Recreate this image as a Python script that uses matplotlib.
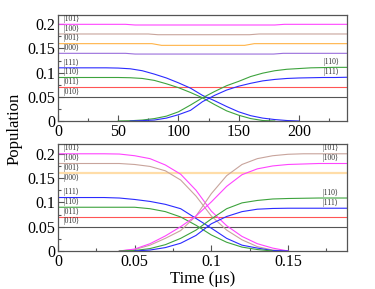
import numpy as np
import matplotlib
matplotlib.use('Agg')
import matplotlib.pyplot as plt
from matplotlib.ticker import MultipleLocator

plt.rcParams['font.family'] = ['Liberation Serif', 'DejaVu Serif', 'DejaVu Sans']

nan = np.nan

# ---------------- top panel: time in ns ----------------
t_top = np.arange(0, 241, 10)
b_dn_top = [.11, .11, .11, .11, .11, .1095, .108, .104, .097, .089, .079, .068, .053,
            .042, .030, .019, .011, .006, .003, .001, 0.0, nan, nan, nan, nan]
g_dn_top = [.09, .09, .09, .09, .09, .09, .0895, .088, .084, .077, .069, .059, .048,
            .034, .021, .012, .005, .001, 0.0, nan, nan, nan, nan, nan, nan]
g_up_top = [nan, nan, nan, nan, nan, 0.0, .0005, .002, .005, .010, .019, .033, .048,
            .061, .073, .082, .092, .099, .104, .107, .1085, .110, .1105, .111, .111]
b_up_top = [nan, nan, nan, nan, nan, nan, 0.0, .0008, .002, .006, .013, .022, .040,
            .053, .064, .072, .078, .083, .086, .088, .089, .0895, .090, .090, .0905]

# nearly flat populations (small dips in the middle)
mag_t_top = [0, 56, 64, 180, 188, 240]
mag_v_top = [.2, .2, .1986, .1986, .2, .2]
ros_t_top = [0, 75, 83, 159, 167, 240]
ros_v_top = [.18, .18, .1785, .1785, .18, .18]
ora_t_top = [0, 78, 86, 155, 163, 240]
ora_v_top = [.16, .16, .1565, .1565, .16, .16]
pur_t_top = [0, 56, 64, 179, 187, 240]
pur_v_top = [.14, .14, .1385, .1385, .14, .14]

# ---------------- bottom panel: time in us ----------------
t_bot = np.round(np.arange(0, 0.195, 0.01), 2)
m_dn_bot = [.2, .2, .2, .2, .1995, .196, .19, .177, .158, .125, .082, .052, .030,
            .015, .006, 0.0, nan, nan, nan, nan]
r_dn_bot = [.18, .18, .18, .18, .18, .178, .174, .165, .146, .113, .072, .043, .023,
            .009, .002, 0.0, nan, nan, nan, nan]
b_dn_bot = [.11, .11, .11, .11, .109, .106, .102, .096, .087, .067, .047, .026, .012,
            .006, .001, 0.0, nan, nan, nan, nan]
g_dn_bot = [.09, .09, .09, .09, .09, .09, .087, .081, .070, .053, .033, .018, .008,
            .003, 0.0, nan, nan, nan, nan, nan]
m_up_bot = [nan, nan, nan, nan, 0.0, .004, .015, .031, .050, .072, .101, .133, .157,
            .169, .175, .178, .179, .18, .18, .18]
r_up_bot = [nan, nan, nan, nan, 0.0, .003, .012, .026, .042, .072, .118, .155, .178,
            .190, .196, .199, .2, .2, .2, .2]
g_up_bot = [nan, nan, nan, nan, 0.0, .001, .005, .013, .026, .043, .066, .087, .099,
            .104, .107, .108, .1085, .109, .109, .109]
b_up_bot = [nan, nan, nan, nan, nan, 0.0, .002, .007, .016, .032, .056, .071, .081,
            .086, .0875, .088, .088, .088, .088, .088]
ora_v_bot = .16

# constant populations (both panels)
red_v = .07
gray_v = .05

# state labels
left_states = ['101', '100', '001', '000', '111', '110', '011', '010']
left_vals = [.2, .18, .16, .14, .11, .09, .07, .05]
right_states_top = ['110', '111']
right_vals_top = [.111, .0905]
right_states_bot = ['101', '100', '110', '111']
right_vals_bot = [.2, .18, .109, .088]

colors = {
    'mag': '#FF44FF',
    'ros': '#C8A49C',
    'ora': '#FFB347',
    'ora_bot': '#FFDDA8',
    'pur': '#9A6FDB',
    'blue': '#2B2BFF',
    'green': '#3DA33D',
    'red': '#FF5555',
    'gray': '#555555',
}
lw = 0.8


def ket(s):
    return '|' + s + '\u27e9'


def style_axes(ax, xmax, xmaj, xmin):
    ax.set_xlim(0, xmax)
    ax.set_ylim(0, 0.22)
    ax.xaxis.set_major_locator(MultipleLocator(xmaj))
    ax.xaxis.set_minor_locator(MultipleLocator(xmin))
    ax.yaxis.set_major_locator(MultipleLocator(0.05))
    ax.yaxis.set_minor_locator(MultipleLocator(0.025))
    ax.tick_params(which='both', direction='in', top=False, right=False,
                   labelsize=11.5, pad=2, color='#555555')
    ax.tick_params(which='major', length=4, width=0.8)
    ax.tick_params(which='minor', length=2, width=0.8)
    for sp in ax.spines.values():
        sp.set_color('#555555')
        sp.set_linewidth(0.9)
    ax.yaxis.set_major_formatter(plt.FuncFormatter(lambda v, p: ('%g' % round(v, 3))))
    ax.xaxis.set_major_formatter(plt.FuncFormatter(lambda v, p: ('%g' % round(v, 3))))


fig = plt.figure(figsize=(3.75, 2.89), dpi=100)
ax1 = fig.add_axes([0.1547, 0.5813, 0.7707, 0.368])
ax2 = fig.add_axes([0.1547, 0.1315, 0.7707, 0.370])

# ---- top ----
ax1.plot(mag_t_top, mag_v_top, color=colors['mag'], lw=lw)
ax1.plot(ros_t_top, ros_v_top, color=colors['ros'], lw=lw)
ax1.plot(ora_t_top, ora_v_top, color=colors['ora'], lw=lw)
ax1.plot(pur_t_top, pur_v_top, color=colors['pur'], lw=lw)
ax1.axhline(red_v, color=colors['red'], lw=lw)
ax1.axhline(gray_v, color=colors['gray'], lw=lw)
ax1.plot(t_top, b_dn_top, color=colors['blue'], lw=lw)
ax1.plot(t_top, g_dn_top, color=colors['green'], lw=lw)
ax1.plot(t_top, g_up_top, color=colors['green'], lw=lw)
ax1.plot(t_top, b_up_top, color=colors['blue'], lw=lw)
style_axes(ax1, 240, 50, 25)

# ---- bottom ----
ax2.axhline(ora_v_bot, color=colors['ora_bot'], lw=1.6)
ax2.axhline(red_v, color=colors['red'], lw=lw)
ax2.axhline(gray_v, color=colors['gray'], lw=lw)
ax2.plot(t_bot, r_dn_bot, color=colors['ros'], lw=lw)
ax2.plot(t_bot, m_dn_bot, color=colors['mag'], lw=lw)
ax2.plot(t_bot, b_dn_bot, color=colors['blue'], lw=lw)
ax2.plot(t_bot, g_dn_bot, color=colors['green'], lw=lw)
ax2.plot(t_bot, r_up_bot, color=colors['ros'], lw=lw)
ax2.plot(t_bot, m_up_bot, color=colors['mag'], lw=lw)
ax2.plot(t_bot, g_up_bot, color=colors['green'], lw=lw)
ax2.plot(t_bot, b_up_bot, color=colors['blue'], lw=lw)
style_axes(ax2, 0.1885, 0.05, 0.025)

# ---- state labels ----
for ax, xl in ((ax1, 4.2), (ax2, 0.0033)):
    for s, v in zip(left_states, left_vals):
        ax.text(xl, v + 0.011, ket(s), fontsize=5.5, ha='left', va='center', color='#333333')
for s, v in zip(right_states_top, right_vals_top):
    ax1.text(220, v + 0.011, ket(s), fontsize=5.5, ha='left', va='center', color='#333333')
for s, v in zip(right_states_bot, right_vals_bot):
    ax2.text(0.1727, v + 0.011, ket(s), fontsize=5.5, ha='left', va='center', color='#333333')

ax2.set_xlabel('Time (\u03bcs)', fontsize=12, labelpad=1)
fig.text(0.04, 0.555, 'Population', rotation=90, fontsize=12, ha='center', va='center')

fig.savefig('out.png', dpi=100, facecolor='white')
